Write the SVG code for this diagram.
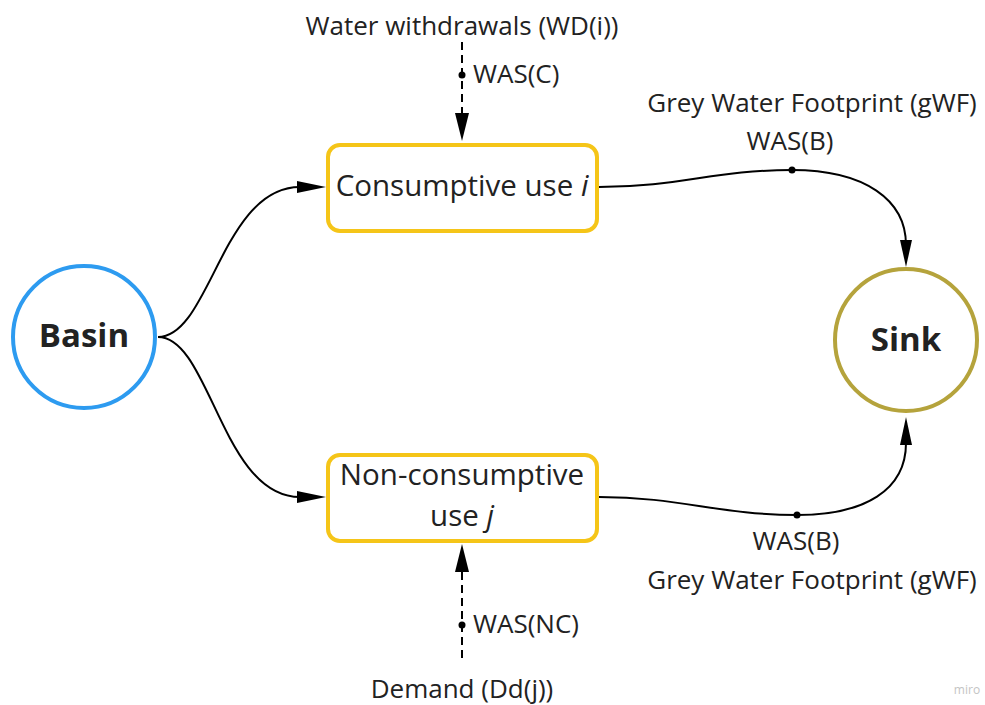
<svg xmlns="http://www.w3.org/2000/svg" width="985" height="705" viewBox="0 0 985 705">
<style>
text{font-family:"Open Sans","Noto Sans","DejaVu Sans",sans-serif;fill:#222;}
.lbl{font-size:26px;}
.node{font-size:29.5px;}
.big{font-size:33px;font-weight:bold;}
.line{fill:none;stroke:#000;stroke-width:2;}
.dash{fill:none;stroke:#000;stroke-width:2;stroke-dasharray:8,5;}
.dot{fill:#000;}
.head{fill:#000;}
</style>
<rect width="985" height="705" fill="#fff"/>
<g id="connectors">
<path class="line" d="M158,337 C210,337 222,187 300,187"/>
<path class="head" d="M297,181 L326,187 L297,193 z"/>
<path class="line" d="M158,337 C210,337 222,497 300,497"/>
<path class="head" d="M297,491 L326,497 L297,503 z"/>
<path class="dash" d="M462,42 L462,116"/>
<path class="head" d="M455,113 L469,113 L462,141 z"/>
<circle class="dot" cx="462" cy="75" r="3.5"/>
<path class="dash" d="M462,658 L462,572"/>
<path class="head" d="M455,572 L469,572 L462,544 z"/>
<circle class="dot" cx="462" cy="625" r="3.5"/>
<path class="line" d="M599,187 C680,187 715,170 792,170 C865,170 906,200 906,245"/>
<path class="head" d="M900,240 L912,240 L906,267 z"/>
<circle class="dot" cx="792" cy="170" r="3.5"/>
<path class="line" d="M599,497 C680,497 720,515 797,515 C865,515 906,490 906,443"/>
<path class="head" d="M900,445 L912,445 L906,417 z"/>
<circle class="dot" cx="797" cy="515" r="3.5"/>
</g>
<g id="basin">
<circle cx="84" cy="337" r="71" fill="#fff" stroke="#2d9bf0" stroke-width="4"/>
<text class="big" x="84" y="347" text-anchor="middle">Basin</text>
</g>
<g id="sink">
<circle cx="906" cy="340" r="71" fill="#fff" stroke="#b5a33c" stroke-width="4"/>
<text class="big" x="906" y="351" text-anchor="middle">Sink</text>
</g>
<g id="consumptive">
<rect x="328" y="145" width="269" height="86" rx="12" fill="#fff" stroke="#f5c518" stroke-width="4"/>
<text class="node" x="462" y="196" text-anchor="middle">Consumptive use <tspan font-style="italic">i</tspan></text>
</g>
<g id="nonconsumptive">
<rect x="328" y="455" width="269" height="86" rx="12" fill="#fff" stroke="#f5c518" stroke-width="4"/>
<text class="node" x="462" y="485" text-anchor="middle">Non-consumptive</text>
<text class="node" x="462" y="526" text-anchor="middle">use <tspan font-style="italic">j</tspan></text>
</g>
<g id="labels">
<text class="lbl" x="462" y="35" text-anchor="middle">Water withdrawals (WD(i))</text>
<text class="lbl" x="473" y="83">WAS(C)</text>
<text class="lbl" x="812" y="112" text-anchor="middle">Grey Water Footprint (gWF)</text>
<text class="lbl" x="790" y="150" text-anchor="middle">WAS(B)</text>
<text class="lbl" x="796" y="550" text-anchor="middle">WAS(B)</text>
<text class="lbl" x="812" y="589" text-anchor="middle">Grey Water Footprint (gWF)</text>
<text class="lbl" x="473" y="633">WAS(NC)</text>
<text class="lbl" x="462" y="698" text-anchor="middle">Demand (Dd(j))</text>
<text x="967" y="694" text-anchor="middle" style="font-size:12px;fill:#c4c4c4;">miro</text>
</g>
</svg>
